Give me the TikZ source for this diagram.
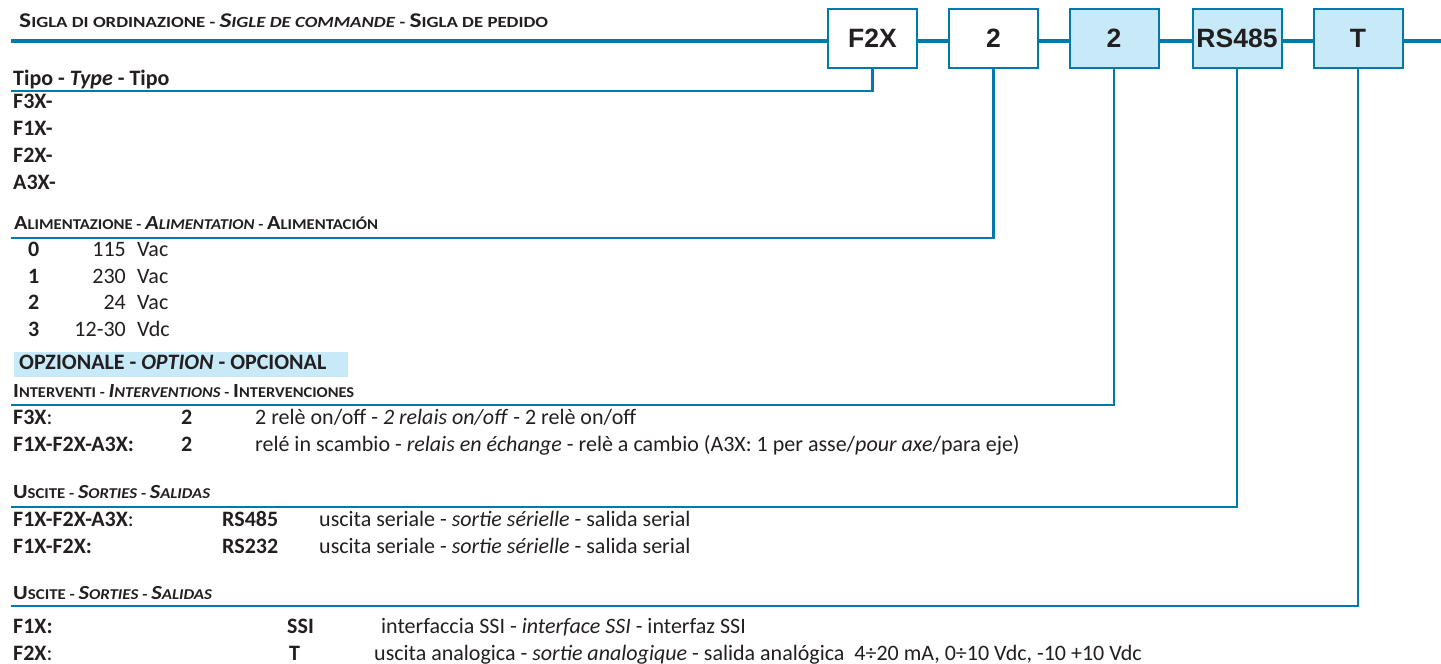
\documentclass[tikz,border=0pt]{standalone}
\usepackage{fontspec}
\usepackage{graphicx}
\setmainfont{Carlito}
\newfontfamily\boxfont{Liberation Sans}
\definecolor{lineblue}{RGB}{0,122,172}
\definecolor{fillblue}{RGB}{200,233,248}
\definecolor{ink}{RGB}{35,31,32}
\newsavebox\fitbox
\newlength\fitlen
\newcommand\fitw[2]{\sbox\fitbox{#2}\setlength\fitlen{\wd\fitbox}\pgfmathsetmacro\fitr{#1/\fitlen}\scalebox{\fitr}[1]{\usebox\fitbox}}
\def\hbig{20}\def\hsmall{15}
\newcommand\hsc[2]{{\fontsize{\hbig}{\hbig}\selectfont #1}{\fontsize{\hsmall}{\hsmall}\selectfont #2}}
\newcommand\hsep{{\fontsize{\hsmall}{\hsmall}\selectfont\ -\ }}
\begin{document}
\begin{tikzpicture}[x=1pt,y=-1pt,
  mainline/.style={draw=lineblue, line width=3.5pt},
  conn/.style={draw=lineblue, line width=2.3pt},
  codebox/.style={draw=lineblue, line width=2pt, fill=white, minimum width=89pt, minimum height=59pt, inner sep=0pt, text=ink, font=\boxfont\bfseries\fontsize{26.5}{26.5}\selectfont},
  optbox/.style={codebox, fill=fillblue},
  txt/.style={anchor=base west, inner sep=0pt, text=ink, font=\fontsize{22}{22}\selectfont},
  lbl/.style={txt, font=\bfseries\fontsize{22}{22}\selectfont},
  hdr/.style={anchor=base west, inner sep=0pt, text=ink, font=\bfseries}
]
\useasboundingbox (0,0) rectangle (1441,664);

% code boxes
\node[codebox] (b1) at (872.5,38.5) {F2X};
\node[codebox] (b2) at (993.5,38.5) {2};
\node[optbox]  (b3) at (1114,38.5) {2};
\node[optbox]  (b4) at (1237,38) {RS485};
\node[optbox]  (b5) at (1358,38) {T};

% main line
\coordinate (ml) at (11,41);
\coordinate (mr) at (1441,41);
\draw[mainline] (ml) -- (b1.west|-ml);
\draw[mainline] (b1.east|-ml) -- (b2.west|-ml);
\draw[mainline] (b2.east|-ml) -- (b3.west|-ml);
\draw[mainline] (b3.east|-ml) -- (b4.west|-ml);
\draw[mainline] (b4.east|-ml) -- (b5.west|-ml);
\draw[mainline] (b5.east|-ml) -- (mr);

% header
\node[hdr] (title) at (19,27) {\fitw{529}{\def\hbig{21}\def\hsmall{15.5}\hsc{S}{IGLA DI ORDINAZIONE}\hsep\textit{\hsc{S}{IGLE DE COMMANDE}}\hsep\hsc{S}{IGLA DE PEDIDO}}};

% Tipo
\node[lbl] (tipo) at (13,85) {Tipo - \textit{Type} - Tipo};
\coordinate (c1) at (11,91);
\draw[conn] (b1.south) |- (c1);
\node[lbl] (t1) at (13,108.5) {F3X-};
\node[lbl] (t2) at (13,135.5) {F1X-};
\node[lbl] (t3) at (13,162.5) {F2X-};
\node[lbl] (t4) at (13,189.5) {A3X-};

% Alimentazione
\node[hdr] (alim) at (14,229.5) {\fitw{364}{\hsc{A}{LIMENTAZIONE}\hsep\textit{\hsc{A}{LIMENTATION}}\hsep\hsc{A}{LIMENTACIÓN}}};
\coordinate (c2) at (11,238);
\draw[conn] (b2.south) |- (c2);
\node[lbl] (a0) at (28,256.5) {0};
\node[lbl] (a1) at (28,283) {1};
\node[lbl] (a2) at (28,309.5) {2};
\node[lbl] (a3) at (28,336) {3};
\node[txt, anchor=base east] (v0) at (126,256.5) {115};
\node[txt, anchor=base east] (v1) at (126,283) {230};
\node[txt, anchor=base east] (v2) at (126,309.5) {24};
\node[txt, anchor=base east] (v3) at (126,336) {12-30};
\node[txt] (u0) at (137,256.5) {Vac};
\node[txt] (u1) at (137,283) {Vac};
\node[txt] (u2) at (137,309.5) {Vac};
\node[txt] (u3) at (137,336) {Vdc};

% Opzionale
\node[fill=fillblue, anchor=north west, inner sep=0pt, minimum width=334pt, minimum height=25pt] (optbg) at (14,352) {};
\node[lbl] (opt) at (19,369.5) {OPZIONALE - \textit{OPTION} - OPCIONAL};

% Interventi
\node[hdr] (interv) at (13,397) {\fitw{341}{\hsc{I}{NTERVENTI}\hsep\textit{\hsc{I}{NTERVENTIONS}}\hsep\hsc{I}{NTERVENCIONES}}};
\coordinate (c3) at (11,405);
\draw[conn] (b3.south) |- (c3);
\node[lbl] (i1) at (13,424.5) {F3X\textmd{:}};
\node[lbl] (i1c) at (181,424.5) {2};
\node[txt] (i1d) at (255,424.5) {2 relè on/off - \textit{2 relais on/off} - 2 relè on/off};
\node[lbl] (i2) at (13,451.5) {F1X-F2X-A3X:};
\node[lbl] (i2c) at (181,451.5) {2};
\node[txt] (i2d) at (255,451.5) {relé in scambio - \textit{relais en échange} - relè a cambio (A3X: 1 per asse/\textit{pour axe}/para eje)};

% Uscite seriali
\node[hdr] (usc1) at (13,498.5) {\fitw{197}{\hsc{U}{SCITE}\hsep\textit{\hsc{S}{ORTIES}}\hsep\textit{\hsc{S}{ALIDAS}}}};
\coordinate (c4) at (11,507);
\draw[conn] (b4.south) |- (c4);
\node[lbl] (s1) at (13,526.5) {F1X-F2X-A3X\textmd{:}};
\node[lbl] (s1c) at (222,526.5) {RS485};
\node[txt] (s1d) at (319,526.5) {uscita seriale - \textit{sortie sérielle} - salida serial};
\node[lbl] (s2) at (13,553.5) {F1X-F2X:};
\node[lbl] (s2c) at (222,553.5) {RS232};
\node[txt] (s2d) at (319,553.5) {uscita seriale - \textit{sortie sérielle} - salida serial};

% Uscite analogiche
\node[hdr] (usc2) at (13,599.5) {\fitw{199}{\hsc{U}{SCITE}\hsep\textit{\hsc{S}{ORTIES}}\hsep\textit{\hsc{S}{ALIDAS}}}};
\coordinate (c5) at (11,606);
\draw[conn] (b5.south) |- (c5);
\node[lbl] (o1) at (13,633.5) {F1X:};
\node[lbl] (o1c) at (287,633.5) {SSI};
\node[txt] (o1d) at (381,633.5) {interfaccia SSI - \textit{interface SSI} - interfaz SSI};
\node[lbl] (o2) at (13,660.5) {F2X\textmd{:}};
\node[lbl] (o2c) at (289,660.5) {T};
\node[txt] (o2d) at (374,660.5) {uscita analogica - \textit{sortie analogique} - salida analógica\ \ 4÷20 mA, 0÷10 Vdc, -10 +10 Vdc};
\end{tikzpicture}
\end{document}
